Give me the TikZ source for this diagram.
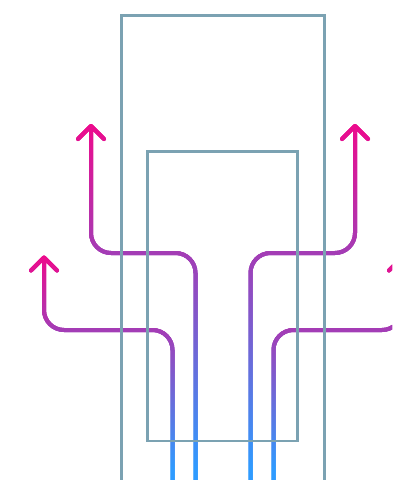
\documentclass[tikz,border=0pt]{standalone}
\definecolor{gpink}{HTML}{EC0B8D}
\definecolor{gpurple}{HTML}{A43CB5}
\definecolor{gblue}{HTML}{2F9BFF}
\definecolor{framec}{HTML}{7BA2B2}
\tikzset{
  gline/.style={line width=4pt, line cap=round, line join=round, rounded corners=20pt},
  frameline/.style={draw=framec, line width=2.5pt}
}
\newcommand\gradstroke[4]{%
  \pgfmathtruncatemacro\ystart{#2-10}%
  \foreach \yy in {\ystart,...,485}{%
    \pgfmathtruncatemacro\isup{\yy<#3}%
    \ifnum\isup=1
      \pgfmathsetmacro\ff{(\yy-(#2))/((#3)-(#2))}%
      \pgfmathsetmacro\pp{max(0,min(100,\ff*100))}%
      \colorlet{bandc}{gpurple!\pp!gpink}%
    \else
      \pgfmathsetmacro\ff{(\yy-(#3))/((#4)-(#3))}%
      \pgfmathsetmacro\pp{max(0,min(100,100-\ff*100))}%
      \colorlet{bandc}{gpurple!\pp!gblue}%
    \fi
    \begin{scope}
      \clip (-10,\yy-0.5) rectangle (420,\yy+1.5);
      \draw[gline, bandc] #1;
    \end{scope}
  }%
}
\begin{document}
\begin{tikzpicture}[x=1pt,y=-1pt]
\useasboundingbox (0,0) rectangle (392,480);
\clip (0,0) rectangle (392,480);
% left outer
\gradstroke{(172.5,490) -- (172.5,330) -- (44,330) -- (44,257.5) [sharp corners] (31,270.5) -- (44,257.5) -- (57,270.5)}{257.5}{330}{470}
% left inner
\gradstroke{(195.5,490) -- (195.5,253) -- (91,253) -- (91,126) [sharp corners] (78,139) -- (91,126) -- (104,139)}{126}{253}{470}
% right inner
\gradstroke{(250.5,490) -- (250.5,253) -- (355,253) -- (355,126) [sharp corners] (342,139) -- (355,126) -- (368,139)}{126}{253}{470}
% right outer
\gradstroke{(273.5,490) -- (273.5,330) -- (402,330) -- (402,257.5) [sharp corners] (389,270.5) -- (402,257.5) -- (415,270.5)}{257.5}{330}{470}
% frames
\draw[frameline] (121.7,15.5) rectangle (324.7,500);
\draw[frameline] (147.7,151.7) rectangle (297.7,441);
\end{tikzpicture}
\end{document}
